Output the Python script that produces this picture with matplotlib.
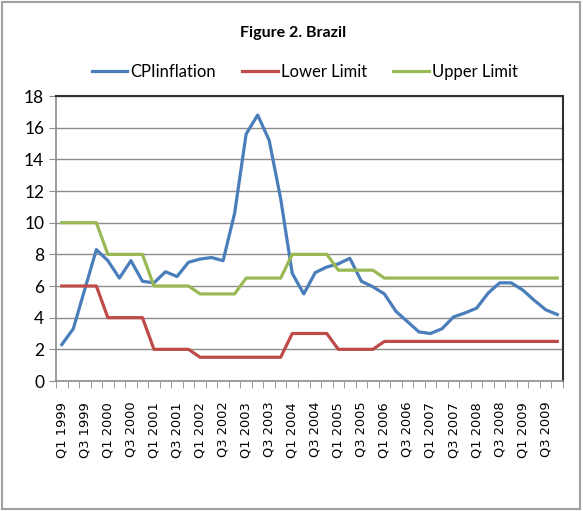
import matplotlib.pyplot as plt
from matplotlib.patches import Rectangle

years = list(range(1999, 2010))
quarters = ['Q%d %d' % (q, y) for y in years for q in (1, 2, 3, 4)]

cpi = [2.3, 3.3, 5.8, 8.3, 7.6, 6.5, 7.6, 6.3,
       6.2, 6.9, 6.6, 7.5, 7.7, 7.8, 7.6, 10.6,
       15.6, 16.8, 15.2, 11.5, 6.8, 5.5, 6.85, 7.2,
       7.4, 7.75, 6.3, 5.95, 5.5, 4.4, 3.75, 3.1,
       3.0, 3.3, 4.05, 4.3, 4.6, 5.55, 6.2, 6.2,
       5.75, 5.1, 4.5, 4.2]
lower = [6, 6, 6, 6, 4, 4, 4, 4, 2, 2, 2, 2,
         1.5, 1.5, 1.5, 1.5, 1.5, 1.5, 1.5, 1.5,
         3, 3, 3, 3, 2, 2, 2, 2] + [2.5] * 16
upper = [10, 10, 10, 10, 8, 8, 8, 8, 6, 6, 6, 6,
         5.5, 5.5, 5.5, 5.5, 6.5, 6.5, 6.5, 6.5,
         8, 8, 8, 8, 7, 7, 7, 7] + [6.5] * 16

plt.rcParams['font.family'] = ['Lato', 'DejaVu Sans']

fig = plt.figure(figsize=(5.83, 5.11), dpi=100)
ax = fig.add_axes([0.0961, 0.2544, 0.8696, 0.5577])

x = list(range(len(quarters)))
ax.plot(x, cpi, color='#4A7EBB', lw=2.3, label='CPIinflation')
ax.plot(x, lower, color='#BE4B48', lw=2.3, label='Lower Limit')
ax.plot(x, upper, color='#98B954', lw=2.3, label='Upper Limit')

ax.set_xlim(-0.5, len(quarters) - 0.5)
ax.set_ylim(0, 18)
ax.set_yticks(range(0, 19, 2))
ax.yaxis.grid(True, color='#8c8c8c', lw=1)
ax.set_axisbelow(True)

ax.set_xticks(x[::2])
ax.set_xticklabels(quarters[::2], rotation=90, family='DejaVu Sans', fontsize=9.4)
ax.set_xticks([i - 0.5 for i in range(len(quarters) + 1)], minor=True)
ax.tick_params(axis='x', which='major', length=0, pad=15)
ax.tick_params(axis='x', which='minor', length=5, color='#8c8c8c')
ax.tick_params(axis='y', length=5, color='#8c8c8c', labelsize=12.5)

for s in ('left', 'bottom'):
    ax.spines[s].set_color('#8c8c8c')
    ax.spines[s].set_linewidth(1.2)
for s in ('top', 'right'):
    ax.spines[s].set_color('#303030')
    ax.spines[s].set_linewidth(1.5)

fig.text(0.503, 0.935, 'Figure 2. Brazil', ha='center', va='center',
         fontsize=11.5, fontweight='bold')
fig.legend(loc='center', bbox_to_anchor=(0.523, 0.859), ncol=3, frameon=False,
           fontsize=12, handlelength=2.15, columnspacing=1.55, handletextpad=0.2)

fig.patches.append(Rectangle((0.004, 0.004), 0.99, 0.992, transform=fig.transFigure,
                             fill=False, edgecolor='#a0a0a0', lw=1.5))

fig.savefig('out.png', dpi=100)
